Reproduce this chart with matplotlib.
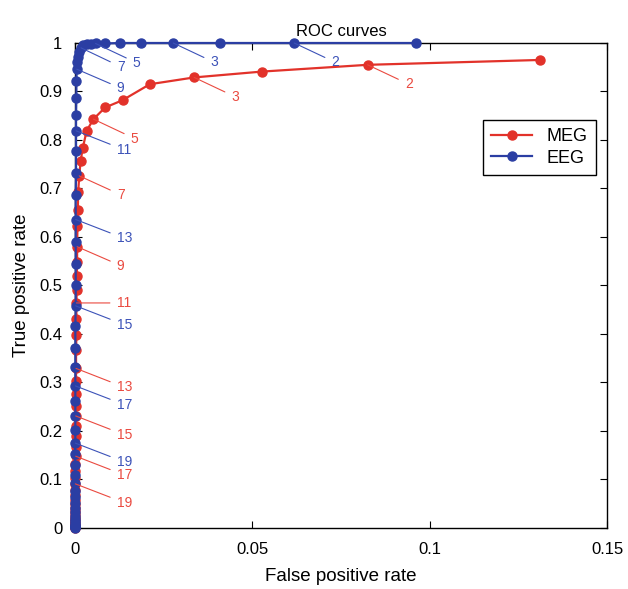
import matplotlib
matplotlib.use("Agg")
import matplotlib.pyplot as plt

plt.rcParams['font.family'] = ['Liberation Sans', 'DejaVu Sans']

# detection thresholds (one point per threshold)
thresholds = [1.5, 2, 2.5, 3, 3.5, 4, 4.5, 5, 5.5, 6, 6.5, 7, 7.5, 8, 8.5, 9, 9.5, 10,
              10.5, 11, 11.5, 12, 12.5, 13, 13.5, 14, 14.5, 15, 15.5, 16, 16.5, 17,
              17.5, 18, 18.5, 19, 19.5, 20, 20.5, 21, 21.5, 22, 22.5, 23, 23.5, 24,
              24.5, 25, 25.5, 26, 26.5, 27, 27.5, 28]

meg_fpr = [0.131, 0.0825, 0.0526, 0.0336, 0.0211, 0.0134, 0.0085, 0.0052, 0.0033,
           0.0022, 0.0016, 0.0012, 0.0009, 0.0008, 0.0007, 0.0006, 0.0006, 0.0005,
           0.0005, 0.0004, 0.0004, 0.0004, 0.0003, 0.0003, 0.0003, 0.0003, 0.0002,
           0.0002, 0.0002, 0.0002, 0.0002, 0.0002, 0.0001, 0.0001, 0.0001, 0.0001,
           0.0001, 0.0001, 0.0001, 0.0001, 0.0001, 0, 0, 0, 0, 0, 0, 0, 0, 0, 0, 0,
           0, 0]
meg_tpr = [0.965, 0.955, 0.941, 0.929, 0.915, 0.882, 0.867, 0.843, 0.819, 0.784,
           0.757, 0.726, 0.693, 0.655, 0.622, 0.580, 0.548, 0.519, 0.490, 0.464,
           0.430, 0.398, 0.366, 0.329, 0.303, 0.277, 0.252, 0.231, 0.210, 0.190,
           0.168, 0.148, 0.132, 0.117, 0.103, 0.091, 0.079, 0.068, 0.058, 0.049,
           0.041, 0.034, 0.028, 0.023, 0.018, 0.014, 0.011, 0.008, 0.006, 0.004,
           0.003, 0.002, 0.001, 0.0]

eeg_fpr = [0.0961, 0.0618, 0.0409, 0.0277, 0.0186, 0.0127, 0.0085, 0.0058, 0.0045,
           0.0033, 0.0024, 0.0017, 0.0012, 0.0009, 0.0007, 0.0005, 0.0004, 0.0004,
           0.0003, 0.0003, 0.0003, 0.0003, 0.0002, 0.0002, 0.0002, 0.0002, 0.0002,
           0.0002, 0.0001, 0.0001, 0.0001, 0.0001, 0.0001, 0.0001, 0.0001, 0.0001,
           0, 0, 0, 0, 0, 0, 0, 0, 0, 0, 0, 0, 0, 0, 0, 0, 0, 0]
eeg_tpr = [1.0, 1.0, 1.0, 1.0, 1.0, 1.0, 0.999, 0.999, 0.998, 0.997, 0.995, 0.990,
           0.981, 0.972, 0.960, 0.946, 0.922, 0.887, 0.852, 0.819, 0.778, 0.732,
           0.686, 0.636, 0.590, 0.545, 0.500, 0.458, 0.416, 0.372, 0.332, 0.293,
           0.262, 0.230, 0.201, 0.175, 0.152, 0.130, 0.110, 0.092, 0.077, 0.063,
           0.051, 0.041, 0.032, 0.025, 0.019, 0.014, 0.010, 0.007, 0.004, 0.002,
           0.001, 0.0]

meg_labels = [2, 3, 5, 7, 9, 11, 13, 15, 17, 19]
eeg_labels = [2, 3, 5, 7, 9, 11, 13, 15, 17, 19]

red = '#e2322a'
blue = '#2b3ea3'
red_lt = '#ea4a40'
blue_lt = '#3c52b8'

fig = plt.figure(figsize=(6.28, 5.89), dpi=100)
ax = fig.add_axes([0.1194, 0.1036, 0.8472, 0.8234])

ax.plot(meg_fpr, meg_tpr, '-o', color=red, lw=1.6, ms=6.5, clip_on=False, label='MEG', zorder=3)
ax.plot(eeg_fpr, eeg_tpr, '-o', color=blue, lw=1.6, ms=6.5, clip_on=False, label='EEG', zorder=4)


def put_labels(labels, fpr, tpr, color, flat=()):
    for t in labels:
        i = thresholds.index(t)
        x, y = fpr[i], tpr[i]
        if x > 0.004:
            # labels along the top: offset down-right of the point
            tx, ty = x + 0.0105, y - 0.040
        else:
            tx, ty = 0.0118, y - 0.039
        if t in flat:
            ty = y
        ax.annotate(str(t), xy=(x, y), xytext=(tx, ty), textcoords='data',
                    color=color, fontsize=10, ha='left', va='center',
                    arrowprops=dict(arrowstyle='-', color=color, lw=0.8,
                                    shrinkA=3, shrinkB=0), zorder=5)


put_labels(meg_labels, meg_fpr, meg_tpr, red_lt, flat=(11,))
put_labels(eeg_labels, eeg_fpr, eeg_tpr, blue_lt)

ax.set_xlim(0, 0.15)
ax.set_ylim(0, 1)
ax.set_xticks([0, 0.05, 0.1, 0.15])
ax.set_xticklabels(['0', '0.05', '0.1', '0.15'])
ax.set_yticks([i / 10 for i in range(11)])
ax.set_yticklabels(['0', '0.1', '0.2', '0.3', '0.4', '0.5', '0.6', '0.7', '0.8', '0.9', '1'])
ax.tick_params(direction='in', top=True, right=True, labelsize=12, length=5, width=0.8)
ax.tick_params(axis='x', pad=10)
ax.tick_params(axis='y', pad=9)
for s in ax.spines.values():
    s.set_linewidth(1.0)

ax.set_title('ROC curves', fontsize=12, pad=5)
ax.set_xlabel('False positive rate', fontsize=13.5, labelpad=8)
ax.set_ylabel('True positive rate', fontsize=13.5, labelpad=7)

leg = ax.legend(loc='upper right', bbox_to_anchor=(0.979, 0.841), fontsize=13,
                fancybox=False, edgecolor='black', framealpha=1, handlelength=2.3,
                borderpad=0.45, labelspacing=0.25, borderaxespad=0)
leg.get_frame().set_linewidth(1.0)

fig.savefig('out.png', dpi=100)
